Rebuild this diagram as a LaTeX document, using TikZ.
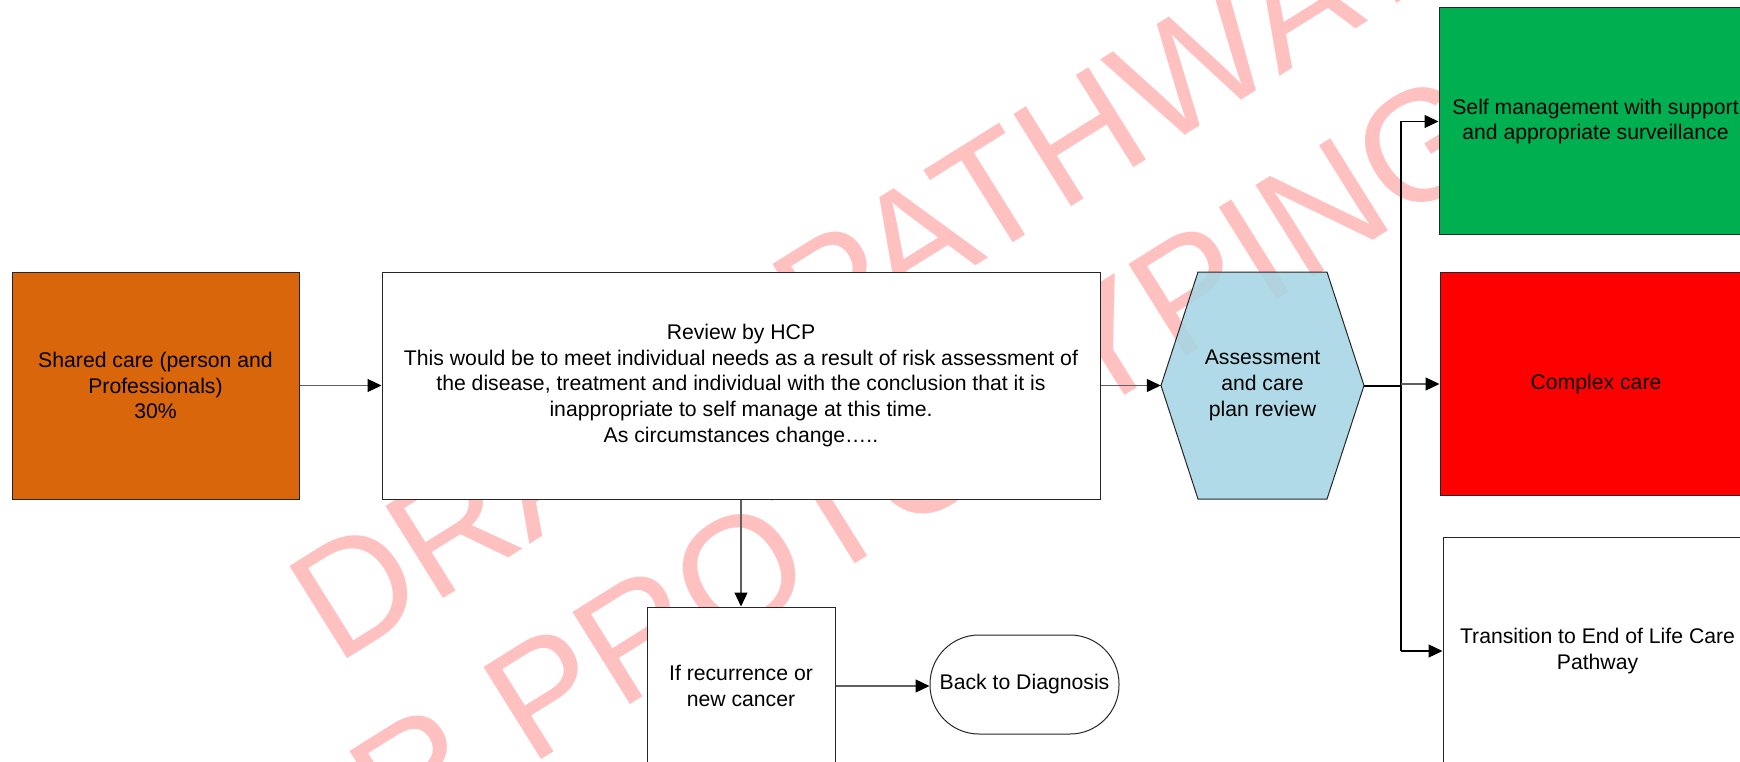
\documentclass[tikz,border=0pt]{standalone}
\usepackage{fontspec}
\setmainfont{Liberation Sans}
\usetikzlibrary{arrows.meta,calc}
\definecolor{orangebox}{RGB}{217,102,11}
\definecolor{greenbox}{RGB}{0,176,80}
\definecolor{redbox}{RGB}{255,0,0}
\definecolor{hexblue}{RGB}{166,214,228}
\definecolor{wmpink}{RGB}{255,192,192}
\definecolor{lgray}{RGB}{95,95,95}
\newcommand\boxfont{\fontsize{21.2}{25.8}\selectfont}
\newcommand\wmfont{\fontsize{158}{170}\selectfont}
\begin{document}
\begin{tikzpicture}[x=1pt,y=-1pt,
  box/.style={draw=black!85,line width=1pt,align=center,inner sep=0pt,font=\boxfont,fill=white},
  conn/.style={draw=lgray,line width=1.2pt,-{Triangle[length=14pt,width=13pt,color=black]}},
  bconn/.style={conn,draw=black},
  wmtext/.style={text=wmpink,font=\wmfont,inner sep=0pt,rotate=32,anchor=base west}]
\fill[white] (0,0) rectangle (1740,762);
\useasboundingbox (0,0) rectangle (1740,762);
% watermark
\node[wmtext] (wm1) at (336,666) {DRAFT PATHWAY};
\node[wmtext] (wm2) at (210,967) {FOR PROTOTYPING};
% boxes
\node[box,fill=orangebox,minimum width=287pt,minimum height=227pt] (shared) at (155.5,385.5)
  {Shared care (person and\\Professionals)\\30\%};
\node[box,minimum width=718pt,minimum height=227pt] (review) at (741,385.5)
  {Review by HCP\\This would be to meet individual needs as a result of risk assessment of\\the disease, treatment and individual with the conclusion that it is\\inappropriate to self manage at this time.\\As circumstances change…..};
\filldraw[fill=hexblue,fill opacity=0.88,draw=black!85,line width=1pt]
  (1161,385.5) -- (1198,272) -- (1327,272) -- (1364,385.5) -- (1327,499) -- (1198,499) -- cycle;
\node[align=center,inner sep=0pt,font=\boxfont,minimum width=203pt,minimum height=227pt] (hex) at (1262.5,385.5)
  {Assessment\\and care\\plan review};
\node[box,fill=greenbox,minimum width=313pt,minimum height=227pt] (green) at (1595.5,121.5)
  {Self management with support\\and appropriate surveillance};
\node[box,fill=redbox,minimum width=312pt,minimum height=223pt] (red) at (1596,384)
  {Complex care};
\node[box,minimum width=309pt,minimum height=228pt] (white) at (1597.5,651)
  {Transition to End of Life Care\\Pathway};
\node[box,minimum width=188pt,minimum height=158pt] (recur) at (741,686)
  {If recurrence or\\new cancer};
\node[box,rounded corners=49pt,minimum width=189pt,minimum height=99pt] (diag) at (1024.5,684.5)
  {Back to Diagnosis};
% connectors
\draw[conn] (shared) -- (review);
\draw[conn] (review) -- (hex);
\draw[conn] (review.south) -- (recur.north);
\draw[conn] (recur.east) -- (recur.east -| diag.west);
\coordinate (bus) at (1401,385.5);
\coordinate (bt) at (1401,121.5);
\coordinate (bb) at (1401,651);
\draw[line width=2pt,black] (hex.east) -- (bus);
\draw[line width=1.2pt,black] (bt) -- (bb);
\draw[bconn] (bt) -- (green.west);
\draw[conn] (bus |- red.west) -- (red.west);
\draw[bconn] (bb) -- (white.west);
\end{tikzpicture}
\end{document}
